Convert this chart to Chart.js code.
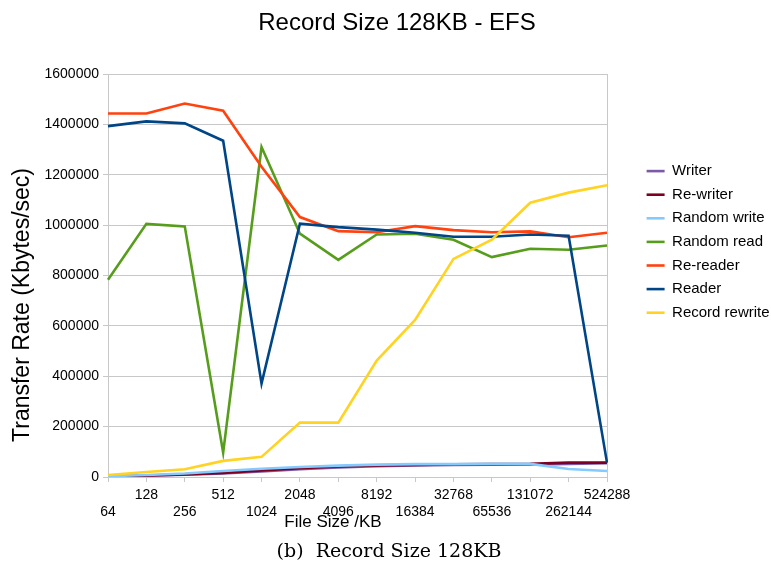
<!DOCTYPE html>
<html>
<head>
<meta charset="utf-8">
<script src="https://cdn.jsdelivr.net/npm/chart.js@4.4.1/dist/chart.umd.min.js"></script>
<style>
  html, body { margin: 0; padding: 0; background: #fff; }
  canvas { display: block; }
</style>
</head>
<body>
<canvas id="chart" width="771" height="571"></canvas>
<script>
// ── Data ────────────────────────────────────────────────────────────────────
const fileSizes = ['64', '128', '256', '512', '1024', '2048', '4096', '8192',
                   '16384', '32768', '65536', '131072', '262144', '524288'];

const writer        = [2000, 5000, 9000, 14000, 22000, 31000, 38000, 43000, 46000, 48000, 49000, 50000, 52000, 55000];
const reWriter      = [2000, 6000, 10000, 16000, 26000, 35000, 42000, 46000, 48000, 50000, 51000, 52000, 57000, 57000];
const randomWrite   = [3000, 8000, 14000, 24000, 33000, 40000, 45000, 49000, 51000, 51000, 52000, 52000, 32000, 24000];
const randomRead    = [783000, 1005000, 995000, 97000, 1310000, 966000, 862000, 963000, 966000, 942000, 873000, 906000, 902000, 919000];
const reReader      = [1443000, 1443000, 1483000, 1454000, 1232000, 1032000, 976000, 972000, 996000, 980000, 972000, 975000, 952000, 970000];
const reader        = [1393000, 1412000, 1404000, 1335000, 371000, 1006000, 992000, 982000, 970000, 954000, 954000, 963000, 958000, 57000];
const recordRewrite = [8000, 20000, 31000, 64000, 80000, 216000, 216000, 462000, 624000, 866000, 942000, 1089000, 1129000, 1158000];

const yTicksMax  = 1600000;
const yTicksStep = 200000;

const TITLE   = 'Record Size 128KB - EFS';
const X_TITLE = 'File Size /KB';
const Y_TITLE = 'Transfer Rate (Kbytes/sec)';
const CAPTION = '(b)  Record Size 128KB';

// ── Styling ────────────────────────────────────────────────────────────────
const SANS  = '"Liberation Sans", Arial, sans-serif';
const SERIF = '"DejaVu Serif", serif';
const GRID  = '#c8c8c8';

function series(label, data, color, i) {
  return {
    label,
    data,
    borderColor     : color,
    backgroundColor : color,
    borderWidth     : 2.6,
    pointRadius     : 0,
    pointHoverRadius: 0,
    tension         : 0,
    fill            : false,
    order           : 10 - i,   // later series drawn on top, as in the source
  };
}

// titles + caption drawn by hand so they sit where the reference has them
const extraText = {
  id: 'extraText',
  afterDraw(chart) {
    const ctx = chart.ctx;
    ctx.save();
    ctx.fillStyle = '#000';
    ctx.textAlign = 'center';
    ctx.textBaseline = 'alphabetic';

    ctx.font = `24px ${SANS}`;
    ctx.fillText(TITLE, 397, 30);

    ctx.font = `17px ${SANS}`;
    ctx.fillText(X_TITLE, 333, 527);

    ctx.save();
    ctx.translate(29, 305);
    ctx.rotate(-Math.PI / 2);
    ctx.font = `23px ${SANS}`;
    ctx.fillText(Y_TITLE, 0, 0);
    ctx.restore();

    ctx.font = `19px ${SERIF}`;
    ctx.fillText(CAPTION, 389, 557);
    ctx.restore();
  },
};

new Chart(document.getElementById('chart'), {
  type: 'line',
  data: {
    labels: fileSizes,
    datasets: [
      series('Writer',         writer,        '#7b5aa6', 0),
      series('Re-writer',      reWriter,      '#7e0021', 1),
      series('Random write',   randomWrite,   '#83caff', 2),
      series('Random read',    randomRead,    '#579d1c', 3),
      series('Re-reader',      reReader,      '#ff420e', 4),
      series('Reader',         reader,        '#004586', 5),
      series('Record rewrite', recordRewrite, '#ffd320', 6),
    ],
  },
  options: {
    responsive: false,
    animation : false,
    layout: { padding: { top: 74, bottom: 46, left: 0, right: 0 } },
    plugins: {
      title  : { display: false },
      tooltip: { enabled: false },
      legend : {
        position: 'right',
        align   : 'start',
        maxWidth: 133,
        title   : { display: true, text: '', padding: { top: 66.6, bottom: 0 } },
        labels  : {
          usePointStyle  : true,
          pointStyle     : 'line',
          pointStyleWidth: 18,
          padding        : 8.6,
          color          : '#000',
          font           : { family: SANS, size: 15 },
          sort           : (a, b) => a.datasetIndex - b.datasetIndex,
        },
      },
    },
    scales: {
      x: {
        grid: {
          color     : ctx => (ctx.index === 0 || ctx.index === fileSizes.length - 1) ? GRID : 'transparent',
          tickColor : GRID,
          tickLength: 5,
        },
        border: { color: GRID },
        ticks: {
          autoSkip   : false,
          maxRotation: 0,
          minRotation: 0,
          padding    : 4,
          color      : '#000',
          font       : { family: SANS, size: 14, lineHeight: 1.25 },
          // alternate rows like the original: odd indices on top, even below
          callback   : (v, i) => (i % 2 === 0 ? ['', fileSizes[i]] : [fileSizes[i]]),
        },
      },
      y: {
        min: 0,
        max: yTicksMax,
        grid  : { color: GRID, tickColor: GRID, tickLength: 5 },
        border: { color: GRID },
        ticks : {
          stepSize: yTicksStep,
          padding : 4,
          color   : '#000',
          font    : { family: SANS, size: 14 },
          callback: v => String(v),
        },
        afterFit: s => { s.width = 108; },
      },
      // spacer between plot and legend
      gap: {
        type    : 'linear',
        position: 'right',
        display : true,
        grid    : { display: false },
        border  : { display: false },
        ticks   : { display: false },
        afterFit: s => { s.width = 31; },
      },
    },
  },
  plugins: [extraText],
});
</script>
</body>
</html>
